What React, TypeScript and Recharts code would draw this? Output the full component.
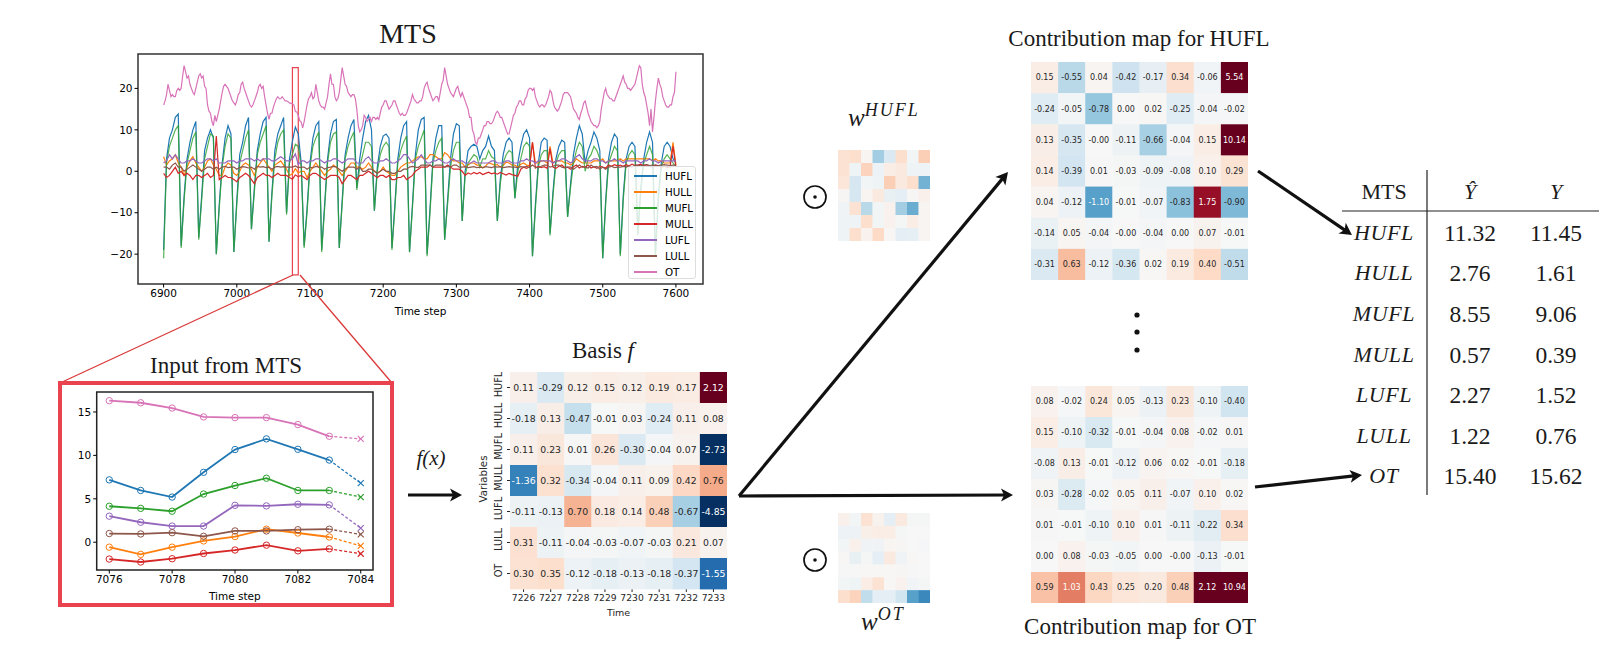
import React from 'react';
import { LineChart, Line, XAxis, YAxis, ScatterChart, Scatter, ReferenceArea, Legend } from 'recharts';

const seriesNames = ['HUFL', 'HULL', 'MUFL', 'MULL', 'LUFL', 'LULL', 'OT'];
const seriesColors = ['#1f77b4', '#ff7f0e', '#2ca02c', '#d62728', '#9467bd', '#8c564b', '#d873b8'];

// MTS overview, one value every 4 steps from 6900, six values per line = one daily cycle
const mtsHUFL = [
  -19, 3, 8, 10, 13, 13.8,
  -18, -6, 3, 7, 10, 12,
  -16, -6, 5, 8, 10, 8,
  -20, -8, 2, 8, 11, 9,
  -19.5, -7, 4, 7, 11, 13,
  -14, -4, 5, 9, 12, 13,
  -17, -5, 5, 9, 11, 13,
  -10, 3, 7.2, 10.7, 9, 2,
  -18, -9, 2, 8, 11, 12,
  -19, -8, 3, 9, 12, 12.5,
  -18.5, -7, 4, 8, 11, 12.5,
  -4, 3, 8, 12, 13.5, 10,
  -9.5, 1, 6, 8.5, 9, 8,
  -18.5, -8, 3, 8, 11, 12,
  -19.5, -8, 4, 10, 12.5, 13,
  -20, -9, 3, 8, 11, 11,
  -16.5, -7, 3, 9, 11.5, 11,
  -12, 0, 5, 6, 6.5, 6,
  3, 5, 6, 8.5, 6, 5,
  -12, -2, 4, 7, 8, 7,
  -6.5, 2, 6, 9, 10, 8,
  -20.5, -8, 2, 7, 8, 7.5,
  -15, -5, 3, 6, 7.5, 7,
  -11, -3, 4, 8, 11, 9,
  2, 5, 7, 9.5, 8, 5,
  -21, -7, 3, 7, 9, 8,
  -20, -6, 3, 6, 7, 6,
  -15, -4, 3, 7, 9.5, 7,
  -20, -6, 2, 6, 7, 6,
  3, 2,
];
const mtsHULL = [
  3.5, 1.5, 2.5, 3, 4, 2,
  1, -1, 1, 2.5, 3.5, 2,
  1, 0, 1, 2.5, 3, 1.5,
  0.5, -1, -1, 1, 2, 1.5,
  -0.5, -1, 0, 1.5, 2, 1.5,
  0.5, -1, 1, 2, 3, 2,
  1, 0, 1.5, 2, 2.5, 1.5,
  0.5, -1, -0.6, 0.65, -0.4, 0,
  0, -1.5, 0, 1, 2, 1,
  0, -1, 0, 0.5, 1.5, 1,
  0, -1, 0, 1, 2, 2,
  1, 1, 0.5, 1, 2, 1,
  0, -0.5, 0, 1, 0, -0.5,
  -1, -1, 0, 1, 1.5, 2,
  2, 2.5, 3, 3.5, 3.5, 3,
  3, 4, 4, 3.5, 3, 3,
  4.5, 4, 3, 2.5, 2.5, 2,
  2, 1, 1.5, 2, 2, 1.5,
  1.5, 0.8, 1.3, 2, 1.8, 1.5,
  1.6, 1, 1.4, 2.2, 2, 1.5,
  1.5, 1, 1.7, 2, 1.5, 1.4,
  7, 2, 2, 2.5, 2.5, 2,
  6, 2, 2.5, 2.5, 2.5, 2,
  2, 1.5, 2, 3, 2.5, 2,
  2, 2, 2, 2.5, 2.5, 2.5,
  3, 2, 2.5, 2.5, 2.5, 2.5,
  3, 2.5, 3, 3, 3, 3,
  3, 3, 3, 3, 3, 2.5,
  3, 2.5, 2.5, 2, 2, 2,
  7, 1.5,
];
const mtsMUFL = [
  -21, 2, 6, 8, 10, 11,
  -18.5, -7, 2, 5, 8, 9.5,
  -16.5, -7, 3, 6, 9, 8.5,
  -20, -9, 1, 6, 9, 8,
  -19.5, -8, 2, 5, 8, 10,
  -14, -5, 4, 7, 9, 11,
  -17, -6, 3, 7, 9, 10,
  -10.5, 2, 4.1, 6.5, 6, 1,
  -18.5, -10, 1, 6, 8, 9.5,
  -19.5, -9, 2, 7, 9, 9.5,
  -18.5, -8, 3, 6, 8, 9.5,
  -4.5, 1, 4, 7, 7, 6,
  -9.5, 0, 4, 6, 7, 6,
  -19, -9, 2, 5, 7, 8.5,
  -19.5, -9, 3, 6, 8, 10,
  -20.5, -10, 2, 5, 7, 8,
  -16.5, -8, 1, 5, 7, 7,
  -12, -1, 2, 3, 4, 3.5,
  1, 3, 3, 5, 3.5, 3,
  -12, -3, 2, 4, 5, 4.5,
  -6.5, 0, 3, 6, 7, 6,
  -20.5, -9, 1, 4, 5, 5,
  -15.5, -6, 2, 4, 5, 5,
  -11, -4, 2, 5, 7, 6,
  0, 3, 4, 6, 5, 3,
  -21, -8, 2, 4, 6, 5,
  -20.5, -7, 2, 4, 5, 4,
  -15.5, -5, 2, 4, 6, 4,
  -20.5, -7, 1, 3, 4, 3,
  2, 1,
];
const mtsMULL = [
  -0.5, -1.5, -1, 0, 1, -0.5,
  0, -1, -0.5, -1, -2, -1,
  -1, -1.5, -1, -0.5, -1.5, -1,
  8.5, -2, -1.5, -1, -1.5, -1.5,
  -2, -2.5, -1.5, -1, -0.5, -1,
  -2, -3, -1.5, -1, -0.5, -1,
  -1, -1.5, -1, -0.5, -1, -1,
  -1, -1.5, -1.9, -0.9, -1.3, -1,
  -1.5, -2, -1, -0.5, -0.5, -1,
  -1.5, -2, -1.5, -1, -1, -1,
  -1.5, -3, -2, -1, -1, -1.5,
  -2, -1, -1, -0.5, 0, -0.5,
  -1, -1.5, -1, -1, -1.5, -1,
  -2, -2, -1.5, -1.5, -1, -2,
  -1.5, -1, 0, 0.5, 1, 1,
  1, 1.5, 1, 1, 1, 1,
  1, 1.5, 1, 0.5, 0.5, 0.5,
  0, -1, -0.4, -0.7, -0.3, -0.6,
  -0.3, -0.8, -0.5, -0.2, -0.6, -0.4,
  -0.7, -0.3, -0.6, -0.9, -0.5, -0.8,
  -1, -1.2, 0.5, 1, 0.7, 1.1,
  7, 0.8, 1.2, 0.9, 1.1, 0.7,
  5.5, 1, 0.7, 1.2, 1.5, 0.9,
  1, 0.5, 1.1, 1.5, 0.8, 1.2,
  1, 1.5, 0.8, 1.1, 0.7, 1.2,
  1, 0.8, 1.5, 1.2, 1.6, 1.3,
  1.5, 1.2, 1.6, 1.3, 1.7, 1.4,
  1.5, 1.7, 1.3, 1.6, 1.2, 1,
  1.5, 1.3, 1, 1.2, 0.9, 1.1,
  6, 1,
];
const mtsLUFL = [
  2, 2.5, 4, 3, 4, 3,
  2, 2, 2.5, 2.5, 3, 2.5,
  2, 2, 2.5, 3, 3, 2.5,
  3, 2, 2, 2, 2.5, 2.5,
  2.5, 2, 2.5, 2.5, 3, 3,
  3, 2.5, 3, 2.5, 3, 3,
  3, 2.5, 2.5, 3, 3.5, 3,
  2.5, 2.5, 3, 4.2, 1.6, 2.5,
  2.5, 2, 2.5, 2.5, 3, 3,
  2.5, 2, 2.5, 2.5, 3, 3,
  2.5, 2, 2.5, 3, 3, 3,
  2, 2, 2, 3, 3.5, 2.5,
  2, 2, 2.5, 2.5, 3, 2.5,
  2, 2, 2.5, 3, 4, 4,
  3, 2, 2.5, 3, 4, 3,
  2, 2, 2.5, 2.5, 3, 2.5,
  2, 2, 2.5, 3, 2.5, 2.5,
  2.5, 2, 2, 2, 2.5, 2,
  2, 2, 2, 2, 2.5, 2.5,
  2, 2, 2, 2.5, 2.5, 2,
  2, 2, 2.5, 2.5, 3, 2.5,
  2.5, 2, 2.5, 2.5, 2.5, 2.5,
  2.5, 2, 2.5, 2.5, 3, 3,
  2.5, 2, 2.5, 3.5, 4, 3,
  2.5, 2.5, 2.5, 3, 3, 2.5,
  2.5, 2, 2.5, 2.5, 3, 2.5,
  2.5, 2, 2.5, 2.5, 2.5, 2.5,
  2.5, 2, 2.5, 2.5, 3, 2.5,
  2.5, 2, 2.5, 2.5, 2.5, 2.5,
  2.5, 2.5,
];
const mtsLULL = [
  1, 1, 0.5, 1.5, 2, 1,
  1, 0, 0.5, 1, 1.5, 1,
  0.5, 0, 0.5, 1, 1, 0.5,
  1, 0.5, 1, 1.2, 0.9, 1,
  1, 0.5, 0.9, 1.1, 1, 0.8,
  1, 0.5, 1.2, 1, 1.1, 0.9,
  1, 0.5, 1, 1.2, 1, 1.1,
  1, 1, 1, 1.3, 0.9, 1,
  1, 0.5, 1, 0.8, 1.2, 1,
  1, 0.5, 0.9, 1, 1.2, 1,
  0.5, 0, 0.5, 1, 1, 1,
  0.5, 1, 0, 0, 0.5, 0.5,
  0, -0.5, 0, 0.5, 0, 0,
  -0.5, -0.5, 0, 0, 0.5, 0.5,
  1, 1.2, 1, 0.9, 1.5, 1.5,
  1.5, 1.5, 1, 1.5, 1.5, 1.5,
  1, 1.2, 1, 1.5, 1.5, 1,
  1, 1.1, 0.9, 1, 1.1, 0.9,
  1, 0.9, 1.1, 1, 0.9, 1.1,
  1, 1.1, 0.9, 1, 1.1, 1,
  1, 0.9, 1.1, 1, 1.2, 0.9,
  1.5, 1, 0.8, 1.2, 1.5, 1.5,
  1, 1.2, 1.5, 1.5, 1, 0.8,
  1, 1, 0.5, 1, 1.5, 1,
  1, 0.8, 1.5, 1, 1.2, 0.5,
  1, 0.5, 1, 1.2, 0.9, 1,
  1, 1.2, 1, 1.3, 1, 1.5,
  1.5, 1.3, 1.5, 1.6, 1.4, 1.5,
  1.5, 1.4, 1.5, 1.6, 1.5, 1.4,
  1.5, 1.5,
];
// OT is sharper than the rest, read every 2 steps, twelve values per line
const mtsOT = [
  16, 17, 18.5, 21, 19.5, 18, 18.5, 18, 18, 19.5, 20, 19.5,
  20, 23, 25.5, 24, 22.5, 23, 21, 20, 19, 18.5, 20, 21.5,
  23, 23.5, 22.5, 23, 20.5, 20, 16, 14.5, 14, 12, 11, 13.5,
  12, 13.5, 15, 17, 19, 20.5, 21, 20.5, 20, 19, 18, 17,
  16.5, 16, 17, 18.5, 19, 21, 21.5, 20, 19, 18, 17, 16,
  15.5, 16, 17, 18, 19, 20.5, 21, 20, 20.5, 18, 16, 14,
  12.5, 14, 14, 15.5, 16.5, 17.5, 18, 17.5, 17.5, 18, 17.5, 17,
  17, 16.8, 16.5, 16.4, 16.3, 16, 14.4, 14.3, 13.5, 12.2, 11.9, 10.5,
  12, 14, 16, 17.5, 18, 19, 17.5, 18, 21, 19, 17, 16,
  15.5, 15.5, 15, 16.5, 18, 21, 23.5, 21, 21, 18, 17, 17.5,
  19, 22, 25, 23, 21, 20.5, 19, 18.5, 18, 18.5, 18.5, 17.5,
  15, 11, 9.5, 10, 11, 13.5, 13, 12, 12.5, 13, 12, 13,
  13, 12.5, 13, 12.5, 14, 15.5, 16, 17, 17, 16, 15, 15.5,
  16, 17, 17, 16, 15, 14, 13.5, 14, 13.5, 13.5, 14, 15,
  16, 17, 18.5, 17.5, 17, 16.5, 16.5, 17, 17, 18, 20, 21,
  21.5, 20, 19, 18, 17, 17.5, 18, 18, 17, 19, 21, 22,
  25, 23, 21, 20, 19, 18.5, 18, 19, 20, 20.5, 19, 18,
  19, 18, 17, 16, 15, 13, 13, 10, 9, 7, 6.5, 8,
  8, 9, 10, 11, 11, 12, 12, 11.5, 11.5, 12, 13, 14,
  14.5, 14, 13, 13, 12, 11, 10, 9, 9, 10.5, 12, 13.5,
  14, 15.5, 16, 17, 17, 16, 16, 17.5, 18, 19.5, 20, 20,
  19.5, 20, 18, 17, 16, 15.5, 16, 16, 15.5, 16, 17, 18,
  19.5, 19, 17, 15.5, 15, 14.5, 15, 16, 17, 18.5, 19, 19,
  19, 18.5, 18, 16.5, 15, 14.5, 14, 13, 12.5, 14, 15, 16.5,
  17, 15.5, 14, 13, 12, 11.5, 11, 11, 10.5, 11, 12, 15,
  17, 19, 20, 18.5, 18, 17.5, 17.5, 17, 17, 18, 19, 20,
  21, 22, 23, 21.5, 21, 20, 20, 19.5, 20, 20.5, 21, 22.5,
  24, 25.5, 25, 21, 19, 18, 16, 14, 11, 15, 9.5, 13,
  17, 20, 22.5, 21, 20, 18, 17, 16, 15.5, 15.5, 16, 16,
  18, 19, 24,
];
const mtsXTicks = [6900, 7000, 7100, 7200, 7300, 7400, 7500, 7600];
const mtsYTicks = [-20, -10, 0, 10, 20];

// Zoomed input window: history 7076-7083 and one forecast step at 7084
const inputSteps = [7076, 7077, 7078, 7079, 7080, 7081, 7082, 7083, 7084];
const inputHUFL = [7.18, 5.96, 5.2, 8.05, 10.67, 11.9, 10.7, 9.46, 6.8];
const inputHULL = [-0.57, -1.4, -0.57, 0.15, 0.65, 1.5, 1.06, 0.6, -0.42];
const inputMUFL = [4.14, 3.9, 3.57, 5.55, 6.53, 7.37, 5.96, 5.96, 5.2];
const inputMULL = [-1.94, -2.28, -1.9, -1.3, -0.9, -0.34, -0.99, -0.76, -1.33];
const inputLUFL = [3, 2.3, 1.86, 1.86, 4.25, 4.18, 4.37, 4.3, 1.63];
const inputLULL = [1, 0.95, 1.1, 0.68, 1.3, 1.3, 1.44, 1.5, 0.9];
const inputOT = [16.3, 16.06, 15.45, 14.43, 14.35, 14.35, 13.55, 12.2, 11.9];
const inputXTicks = [7076, 7078, 7080, 7082, 7084];
const inputYTicks = [0, 5, 10, 15];

const basisTimes = [7226, 7227, 7228, 7229, 7230, 7231, 7232, 7233];
const basisRows = [
  [0.11, -0.29, 0.12, 0.15, 0.12, 0.19, 0.17, 2.12],
  [-0.18, 0.13, -0.47, -0.01, 0.03, -0.24, 0.11, 0.08],
  [0.11, 0.23, 0.01, 0.26, -0.3, -0.04, 0.07, -2.73],
  [-1.36, 0.32, -0.34, -0.04, 0.11, 0.09, 0.42, 0.76],
  [-0.11, -0.13, 0.7, 0.18, 0.14, 0.48, -0.67, -4.85],
  [0.31, -0.11, -0.04, -0.03, -0.07, -0.03, 0.21, 0.07],
  [0.3, 0.35, -0.12, -0.18, -0.13, -0.18, -0.37, -1.55],
];
const contribHUFL = [
  [0.15, -0.55, 0.04, -0.42, -0.17, 0.34, -0.06, 5.54],
  [-0.24, -0.05, -0.78, 0, 0.02, -0.25, -0.04, -0.02],
  [0.13, -0.35, -0.001, -0.11, -0.66, -0.04, 0.15, 10.14],
  [0.14, -0.39, 0.01, -0.03, -0.09, -0.08, 0.1, 0.29],
  [0.04, -0.12, -1.1, -0.01, -0.07, -0.83, 1.75, -0.9],
  [-0.14, 0.05, -0.04, -0.001, -0.04, 0, 0.07, -0.01],
  [-0.31, 0.63, -0.12, -0.36, 0.02, 0.19, 0.4, -0.51],
];
const contribOT = [
  [0.08, -0.02, 0.24, 0.05, -0.13, 0.23, -0.1, -0.4],
  [0.15, -0.1, -0.32, -0.01, -0.04, 0.08, -0.02, 0.01],
  [-0.08, 0.13, -0.01, -0.12, 0.06, 0.02, -0.01, -0.18],
  [0.03, -0.28, -0.02, 0.05, 0.11, -0.07, 0.1, 0.02],
  [0.01, -0.01, -0.1, 0.1, 0.01, -0.11, -0.22, 0.34],
  [0, 0.08, -0.03, -0.05, 0, -0.001, -0.13, -0.01],
  [0.59, 1.03, 0.43, 0.25, 0.2, 0.48, 2.12, 10.94],
];
const weightHUFL = [
  [0.3, 0.35, 0.05, -0.7, -0.3, 0.35, -0.05, 0.5],
  [0.3, -0.1, 0.45, -0.12, 0.15, 0.2, -0.1, -0.1],
  [0.25, -0.35, -0.05, -0.1, 0.5, 0.2, 0.35, -0.95],
  [0.03, -0.35, 0.05, 0.2, -0.15, -0.2, 0.03, 0.1],
  [-0.08, 0.3, -0.55, -0.05, 0.08, -0.7, -1, 0.05],
  [-0.1, -0.1, 0.35, -0.05, 0.08, -0.03, 0.15, 0.05],
  [-0.1, 0.35, 0.08, 0.4, 0.02, -0.2, -0.18, 0.05],
];
const weightOT = [
  [0.1, -0.05, 0.3, 0.07, -0.2, 0.2, -0.03, -0.03],
  [-0.12, -0.12, 0.12, 0.15, 0.15, -0.03, 0, 0],
  [-0.05, 0.1, -0.08, -0.08, 0.05, 0.03, 0, -0.02],
  [0.02, -0.15, -0.03, -0.2, 0.2, -0.08, 0.02, 0],
  [0.01, 0.01, 0.02, 0.02, 0.02, 0.03, 0.01, 0],
  [-0.05, -0.1, 0.15, 0.3, 0.02, 0.08, -0.06, -0.03],
  [0.35, 0.45, -0.5, -0.2, -0.2, -0.4, -1.1, -1.3],
];

const tableNames = ['HUFL', 'HULL', 'MUFL', 'MULL', 'LUFL', 'LULL', 'OT'];
const tablePredicted = ['11.32', '2.76', '8.55', '0.57', '2.27', '1.22', '15.40'];
const tableActual = ['11.45', '1.61', '9.06', '0.39', '1.52', '0.76', '15.62'];

const mtsSeries = [mtsHUFL, mtsHULL, mtsMUFL, mtsMULL, mtsLUFL, mtsLULL];
const mtsData = mtsHUFL.map((_, i) => {
  const row: any = { t: 6900 + i * 4 };
  mtsSeries.forEach((values, s) => (row[seriesNames[s]] = values[i]));
  return row;
});
const otData = mtsOT.map((v, i) => ({ t: 6900 + i * 2, OT: v }));

const inputSeries = [inputHUFL, inputHULL, inputMUFL, inputMULL, inputLUFL, inputLULL, inputOT];
const inputData = inputSteps.map((t, i) => {
  const row: any = { t };
  seriesNames.forEach((name, s) => {
    row[name] = i < 8 ? inputSeries[s][i] : null;
    row[name + '_next'] = i >= 7 ? inputSeries[s][i] : null;
  });
  return row;
});

const SANS = '"DejaVu Sans", sans-serif';
const SERIF = '"Liberation Serif", serif';
const RED = '#e8434f';
const INK = '#111';

const rdbuStops = ['#053061', '#2166ac', '#4393c3', '#92c5de', '#d1e5f0', '#f7f7f7', '#fddbc7', '#f4a582', '#d6604d', '#b2182b', '#67001f'];
const toRgb = (hex: string) => [1, 3, 5].map((i) => parseInt(hex.slice(i, i + 2), 16));
// seaborn RdBu_r clipped to +-2
const heatColor = (v: number) => {
  const pos = (Math.max(-1, Math.min(1, v / 2)) + 1) * 5;
  const i = Math.min(9, Math.floor(pos));
  const a = toRgb(rdbuStops[i]);
  const b = toRgb(rdbuStops[i + 1]);
  const c = a.map((ch, k) => Math.round(ch + (b[k] - ch) * (pos - i)));
  return `rgb(${c[0]},${c[1]},${c[2]})`;
};

const minusTick = (v: number) => String(v).replace('-', '\u2212');

const CellShape = ({ cx, cy, payload, cellW, cellH, fontSize }: any) => (
  <g>
    <rect x={cx - cellW / 2} y={cy - cellH / 2} width={cellW + 0.4} height={cellH + 0.4} fill={heatColor(payload.v)} />
    {fontSize ? (
      <text x={cx} y={cy + fontSize * 0.36} textAnchor="middle" fontSize={fontSize} fontFamily={SANS} fill={Math.abs(payload.v) > 1 ? '#fff' : '#262626'}>
        {payload.v.toFixed(2)}
      </text>
    ) : null}
  </g>
);

const cellsOf = (rows: number[][]) =>
  rows.flatMap((row, r) => row.map((v, c) => ({ x: c + 0.5, y: r + 0.5, v })));

const Heatmap = ({ rows, left, top, width, height, fontSize, axes }: any) => {
  const marginLeft = axes ? 50 : 0;
  const marginBottom = axes ? 32 : 0;
  return (
    <div style={{ position: 'absolute', left: left - marginLeft, top }}>
      <ScatterChart width={width + marginLeft} height={height + marginBottom} margin={{ top: 0, right: 0, bottom: 0, left: 0 }}>
        <XAxis
          type="number"
          dataKey="x"
          domain={[0, 8]}
          ticks={basisTimes.map((_, i) => i + 0.5)}
          tickFormatter={(v: number) => String(basisTimes[v - 0.5])}
          hide={!axes}
          height={marginBottom}
          axisLine={false}
          tickSize={3}
          tickMargin={2}
          interval={0}
          tick={{ fontSize: 9.2, fontFamily: SANS, fill: '#262626' }}
          stroke="#262626"
          label={{ value: 'Time', position: 'insideBottom', offset: 5, fontSize: 9.5, fontFamily: SANS, fill: '#262626' }}
        />
        <YAxis
          type="number"
          dataKey="y"
          reversed
          domain={[0, 7]}
          ticks={seriesNames.map((_, i) => i + 0.5)}
          hide={!axes}
          width={marginLeft}
          axisLine={false}
          tickSize={3}
          interval={0}
          stroke="#262626"
          tick={(p: any) => (
            <text
              x={p.x}
              y={p.y}
              transform={`rotate(-90 ${p.x - 3} ${p.y})`}
              textAnchor="middle"
              fontSize={9.8}
              fontFamily={SANS}
              fill="#262626"
            >
              {seriesNames[p.payload.value - 0.5]}
            </text>
          )}
          label={{ value: 'Variables', angle: -90, position: 'insideLeft', offset: 23, fontSize: 10.3, fontFamily: SANS, fill: '#262626', dy: 22 }}
        />
        <Scatter
          data={cellsOf(rows)}
          isAnimationActive={false}
          shape={(p: any) => <CellShape {...p} cellW={width / 8} cellH={height / 7} fontSize={fontSize} />}
        />
      </ScatterChart>
    </div>
  );
};

const MtsLegend = () => (
  <div style={{ width: 68, height: 113, background: 'rgba(255,255,255,0.82)', border: '1px solid #ddd', borderRadius: 3, boxSizing: 'border-box', paddingTop: 1 }}>
    {seriesNames.map((name, i) => (
      <div key={name} style={{ height: 16, display: 'flex', alignItems: 'center', fontFamily: SANS, fontSize: 10.3, color: '#000' }}>
        <span style={{ width: 23, height: 1.5, marginLeft: 5, marginRight: 8, background: seriesColors[i] }} />
        {name}
      </div>
    ))}
  </div>
);

const XMark = ({ cx, cy, color, t }: any) =>
  t === 7084 ? (
    <path d={`M${cx - 3} ${cy - 3}L${cx + 3} ${cy + 3}M${cx - 3} ${cy + 3}L${cx + 3} ${cy - 3}`} stroke={color} strokeWidth={1.2} fill="none" />
  ) : (
    <g />
  );

const Arrow = ({ x1, y1, x2, y2 }: any) => {
  const ang = Math.atan2(y2 - y1, x2 - x1);
  const at = (back: number, side: number) =>
    `${x2 - back * Math.cos(ang) - side * Math.sin(ang)},${y2 - back * Math.sin(ang) + side * Math.cos(ang)}`;
  return (
    <g>
      <line x1={x1} y1={y1} x2={x2 - 6 * Math.cos(ang)} y2={y2 - 6 * Math.sin(ang)} stroke={INK} strokeWidth={3.2} />
      <polygon points={`${x2},${y2} ${at(12, 6.5)} ${at(9, 0)} ${at(12, -6.5)}`} fill={INK} />
    </g>
  );
};

const Title = ({ x, y, size = 23, children }: any) => (
  <text x={x} y={y} textAnchor="middle" fontFamily={SERIF} fontSize={size} fill="#1a1a1a">
    {children}
  </text>
);

const tableRowY = [233, 273, 314, 355, 395, 436, 476];

const Overlay = () => (
  <svg width={1604} height={645} style={{ position: 'absolute', left: 0, top: 0 }}>
    <Title x={408} y={43} size={28}>MTS</Title>
    <Title x={226} y={373}>Input from MTS</Title>
    <Title x={603} y={358}>
      Basis <tspan fontStyle="italic">f</tspan>
    </Title>
    <Title x={1139} y={46}>Contribution map for HUFL</Title>
    <Title x={1140} y={634}>Contribution map for OT</Title>

    <line x1={293} y1={275} x2={60} y2={383} stroke="#d93a3a" strokeWidth={1.3} />
    <line x1={300} y1={275} x2={392} y2={383} stroke="#d93a3a" strokeWidth={1.3} />
    <rect x={60} y={383} width={332} height={222} fill="none" stroke={RED} strokeWidth={4} />

    <text x={431} y={465} textAnchor="middle" fontFamily={SERIF} fontStyle="italic" fontSize={21} fill="#1a1a1a">f(x)</text>
    <Arrow x1={408} y1={495} x2={462} y2={495} />
    <Arrow x1={739} y1={496} x2={1013} y2={495} />
    <Arrow x1={739} y1={496} x2={1008} y2={172} />
    <Arrow x1={1258} y1={171} x2={1352} y2={235} />
    <Arrow x1={1255} y1={487} x2={1362} y2={475} />

    <circle cx={815} cy={197} r={11} fill="none" stroke={INK} strokeWidth={1.7} />
    <circle cx={815} cy={197} r={1.8} fill={INK} />
    <circle cx={815} cy={560} r={11} fill="none" stroke={INK} strokeWidth={1.7} />
    <circle cx={815} cy={560} r={1.8} fill={INK} />

    <text x={848} y={126} fontFamily={SERIF} fontStyle="italic" fontSize={25} fill="#1a1a1a">
      w<tspan dy={-10} fontSize={18} letterSpacing={2}>HUFL</tspan>
    </text>
    <text x={861} y={630} fontFamily={SERIF} fontStyle="italic" fontSize={25} fill="#1a1a1a">
      w<tspan dy={-10} fontSize={18} letterSpacing={2}>OT</tspan>
    </text>

    <circle cx={1137} cy={315} r={2.6} fill={INK} />
    <circle cx={1137} cy={332} r={2.6} fill={INK} />
    <circle cx={1137} cy={350} r={2.6} fill={INK} />

    <line x1={1427} y1={170} x2={1427} y2={495} stroke="#222" strokeWidth={1.2} />
    <line x1={1342} y1={211} x2={1599} y2={211} stroke="#222" strokeWidth={1.2} />
    <g fontFamily={SERIF} fontSize={22} fill="#1a1a1a" textAnchor="middle">
      <text x={1384} y={199}>MTS</text>
      <text x={1470} y={199} fontStyle="italic">Ŷ</text>
      <text x={1556} y={199} fontStyle="italic">Y</text>
      {tableNames.map((name, i) => (
        <g key={name}>
          <text x={1384} y={tableRowY[i] + 7} fontStyle="italic" letterSpacing={0.6}>{name}</text>
          <text x={1470} y={tableRowY[i] + 8} fontSize={23.5}>{tablePredicted[i]}</text>
          <text x={1556} y={tableRowY[i] + 8} fontSize={23.5}>{tableActual[i]}</text>
        </g>
      ))}
    </g>
  </svg>
);

export default function App() {
  const tickStyle = { fontSize: 10.5, fontFamily: SANS, fill: '#000' };
  return (
    <div style={{ position: 'absolute', left: 0, top: 0, width: 1604, height: 645, background: '#fff', overflow: 'hidden' }}>
      <div style={{ position: 'absolute', left: 100, top: 44 }}>
        <LineChart width={620} height={280} data={mtsData} margin={{ top: 10, right: 17, bottom: 4, left: 0 }}>
          <XAxis
            type="number"
            dataKey="t"
            domain={[6865, 7637]}
            ticks={mtsXTicks}
            height={36}
            tick={tickStyle}
            tickSize={3.5}
            stroke="#000"
            axisLine={false}
            label={{ value: 'Time step', position: 'insideBottom', offset: 5, fontSize: 10.5, fontFamily: SANS, fill: '#000' }}
          />
          <YAxis
            type="number"
            domain={[-27.2, 28.3]}
            ticks={mtsYTicks}
            width={38}
            tick={tickStyle}
            tickSize={3.5}
            stroke="#000"
            axisLine={false}
            tickFormatter={minusTick}
          />
          {seriesNames.slice(0, 6).map((name, i) => (
            <Line key={name} dataKey={name} stroke={seriesColors[i]} strokeWidth={1.2} strokeOpacity={i === 2 ? 0.8 : 1} dot={false} isAnimationActive={false} />
          ))}
          <Line data={otData} dataKey="OT" stroke={seriesColors[6]} strokeWidth={1.2} dot={false} isAnimationActive={false} />
          <ReferenceArea x1={6865} x2={7637} y1={-27.2} y2={28.3} fill="none" stroke="#333" strokeWidth={1.5} ifOverflow="visible" />
          <ReferenceArea x1={7076} x2={7084} y1={-25} y2={25} fill="none" stroke={RED} strokeWidth={1.2} ifOverflow="visible" />
          <Legend
            layout="vertical"
            align="center"
            verticalAlign="middle"
            content={<MtsLegend />}
            wrapperStyle={{ position: 'absolute', left: 528, top: 122, width: 68, height: 113 }}
          />
        </LineChart>
      </div>

      <div style={{ position: 'absolute', left: 62, top: 385 }}>
        <LineChart width={320} height={220} data={inputData} margin={{ top: 7, right: 9, bottom: 5, left: 0 }}>
          <XAxis
            type="number"
            dataKey="t"
            domain={[7075.6, 7084.39]}
            ticks={inputXTicks}
            height={30}
            tick={tickStyle}
            tickSize={3.5}
            stroke="#000"
            axisLine={false}
            label={{ value: 'Time step', position: 'insideBottom', offset: 0, fontSize: 10.5, fontFamily: SANS, fill: '#000' }}
          />
          <YAxis
            type="number"
            domain={[-3.2, 17.3]}
            ticks={inputYTicks}
            width={34.7}
            tick={tickStyle}
            tickSize={3.5}
            stroke="#000"
            axisLine={false}
          />
          {seriesNames.map((name, i) => (
            <Line
              key={name}
              dataKey={name}
              stroke={seriesColors[i]}
              strokeWidth={1.8}
              dot={{ r: 3.2, fill: 'none', stroke: seriesColors[i], strokeWidth: 1 }}
              connectNulls={false}
              isAnimationActive={false}
            />
          ))}
          {seriesNames.map((name, i) => (
            <Line
              key={name + '_next'}
              dataKey={name + '_next'}
              stroke={seriesColors[i]}
              strokeWidth={1.3}
              strokeDasharray="3 2"
              dot={(p: any) => <XMark key={p.index} cx={p.cx} cy={p.cy} color={seriesColors[i]} t={p.payload.t} />}
              connectNulls={false}
              isAnimationActive={false}
            />
          ))}
          <ReferenceArea x1={7075.6} x2={7084.39} y1={-3.2} y2={17.3} fill="none" stroke="#222" strokeWidth={1.5} ifOverflow="visible" />
        </LineChart>
      </div>

      <Heatmap rows={basisRows} left={510} top={372} width={217} height={217} fontSize={9.3} axes />
      <Heatmap rows={contribHUFL} left={1031} top={62} width={217} height={218} fontSize={8} />
      <Heatmap rows={contribOT} left={1031} top={386} width={217} height={217} fontSize={8} />
      <Heatmap rows={weightHUFL} left={838} top={150} width={92} height={91} />
      <Heatmap rows={weightOT} left={838} top={513} width={92} height={90} />

      <Overlay />
    </div>
  );
}
